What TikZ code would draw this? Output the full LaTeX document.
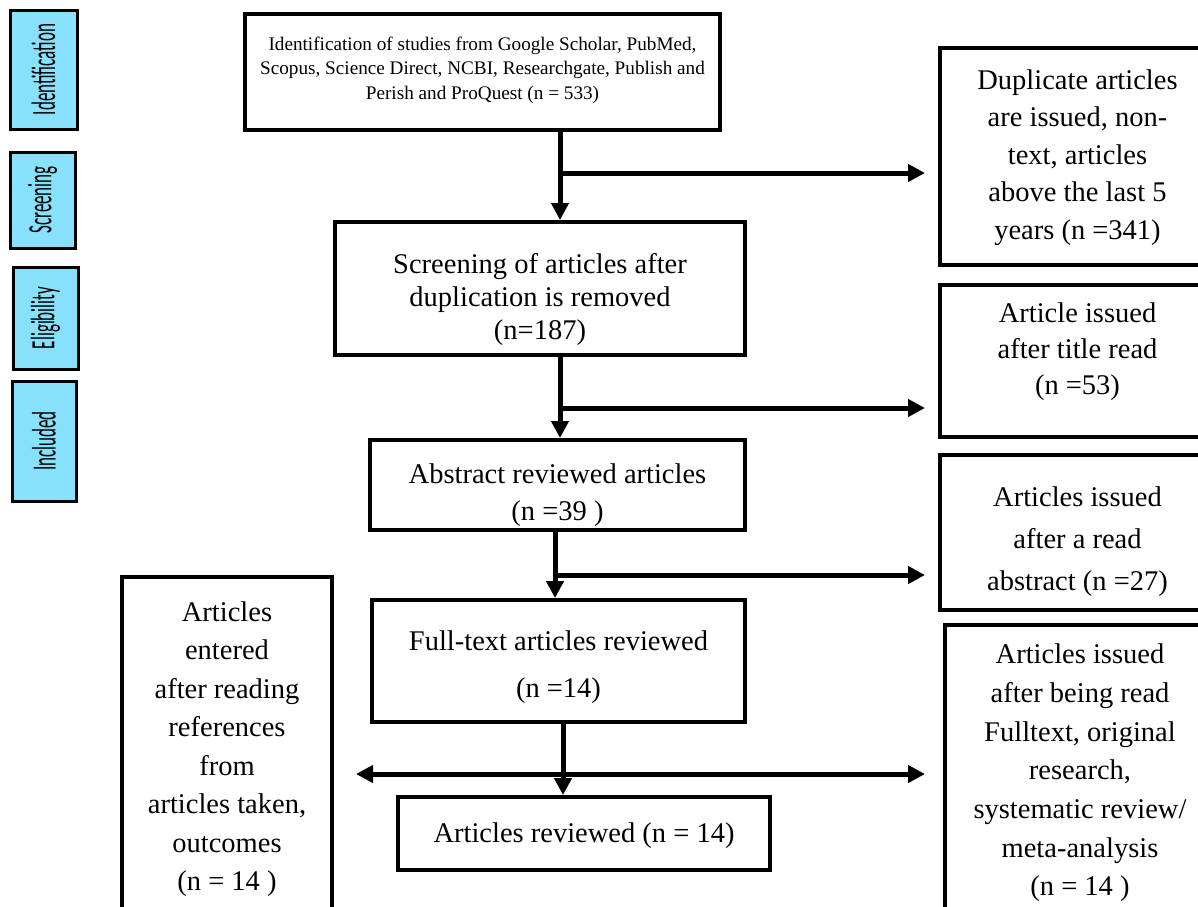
\documentclass[tikz,border=0pt]{standalone}
\usepackage{fontspec}
\setmainfont{Liberation Serif}
\newfontfamily\lblfont[FakeStretch=0.5]{Carlito}
\usetikzlibrary{arrows.meta}
\definecolor{lblblue}{HTML}{87E1FA}
\tikzset{
  stagelbl/.style={draw=black, line width=3pt, fill=lblblue, rotate=90,
    font=\lblfont\fontsize{34}{38}\selectfont, inner sep=0pt},
  flowbox/.style={draw=black, line width=4pt, align=center, inner sep=0pt,
    font=\fontsize{28.5}{37}\selectfont},
  flowtext/.style={align=center, inner sep=0pt, font=\fontsize{28.5}{37}\selectfont},
  flowarrow/.style={line width=5pt, -{Triangle[length=17pt,width=17pt]}},
  dblarrow/.style={line width=5pt, {Triangle[length=17pt,width=17pt]}-{Triangle[length=17pt,width=17pt]}},
}
\begin{document}
\begin{tikzpicture}[x=1pt,y=-1pt]
\useasboundingbox (0,0) rectangle (1198,906);
\clip (0,0) rectangle (1198,906);
% stage labels
\node[stagelbl, minimum width=119pt, minimum height=67pt] (sid) at (43.5,69.5) {Identification};
\node[stagelbl, minimum width=96pt, minimum height=65pt] (ssc) at (42.5,200) {Screening};
\node[stagelbl, minimum width=102pt, minimum height=65pt] (sel) at (45.5,318) {Eligibility};
\node[stagelbl, minimum width=120pt, minimum height=64pt] (sin) at (44,441) {Included};
% main boxes
\node[flowbox, minimum width=475pt, minimum height=116pt] (b1) at (482.5,72) {};
\node[flowtext, font=\fontsize{19.2}{24.5}\selectfont] (t1) at ([yshift=2pt]b1.center)
  {Identification of studies from Google Scholar, PubMed,\\Scopus, Science Direct, NCBI, Researchgate, Publish and\\Perish and ProQuest (n = 533)};
\node[flowbox, minimum width=410pt, minimum height=133pt] (b2) at (540,288.5) {};
\node[flowtext, font=\fontsize{28.5}{33}\selectfont] (t2) at ([yshift=-11pt]b2.center)
  {Screening of articles after\\duplication is removed\\(n=187)};
\node[flowbox, minimum width=375pt, minimum height=90pt] (b3) at (557.5,485) {};
\node[flowtext] (t3) at ([yshift=-10pt]b3.center)
  {Abstract reviewed articles\\(n =39 )};
\node[flowbox, minimum width=373pt, minimum height=122pt] (b4) at (558.5,661) {};
\node[flowtext, font=\fontsize{28.5}{47}\selectfont] (t4) at ([yshift=-6pt]b4.center)
  {Full-text articles reviewed\\(n =14)};
\node[flowbox, minimum width=372pt, minimum height=73pt] (b5) at (584,833.5) {};
\node[flowtext] (t5) at ([yshift=-2pt]b5.center) {Articles reviewed (n = 14)};
\node[flowbox, minimum width=210pt, minimum height=348pt] (lb) at (227,751) {};
\node[flowtext, font=\fontsize{28.5}{38.5}\selectfont] (tl) at ([yshift=2pt]lb.center)
  {Articles\\entered\\after reading\\references\\from\\articles taken,\\outcomes\\(n = 14 )};
% right boxes
\node[flowbox, minimum width=275pt, minimum height=217pt] (r1) at (1077.5,156.5) {};
\node[flowtext, font=\fontsize{28.5}{37.5}\selectfont] (tr1) at ([yshift=-1pt]r1.center)
  {Duplicate articles\\are issued, non-\\text, articles\\above the last 5\\years (n =341)};
\node[flowbox, minimum width=275pt, minimum height=152pt] (r2) at (1077.5,361) {};
\node[flowtext, font=\fontsize{28.5}{36}\selectfont] (tr2) at ([yshift=9pt]r2.center)
  {Article issued\\after title read\\(n =53)};
\node[flowbox, minimum width=275pt, minimum height=155pt] (r3) at (1077.5,532.5) {};
\node[flowtext, font=\fontsize{28.5}{42}\selectfont] (tr3) at ([yshift=-9pt]r3.center)
  {Articles issued\\after a read\\abstract (n =27)};
\node[flowbox, minimum width=270pt, minimum height=300pt] (r4) at (1080,775) {};
\node[flowtext, font=\fontsize{28.5}{38.7}\selectfont] (tr4) at ([yshift=2pt]r4.center)
  {Articles issued\\after being read\\Fulltext, original\\research,\\systematic review/\\meta-analysis\\(n = 14 )};
% junctions
\coordinate (j1) at (560,173);
\coordinate (j2) at (560,408);
\coordinate (j3) at (555,575);
\coordinate (j4) at (563,774);
% connectors
\draw[flowarrow] (b1.south -| j1) -- (b2.north -| j1);
\draw[flowarrow] (j1) -- ([xshift=-13pt]r1.west |- j1);
\draw[flowarrow] (b2.south -| j2) -- (b3.north -| j2);
\draw[flowarrow] (j2) -- ([xshift=-13pt]r2.west |- j2);
\draw[flowarrow] (b3.south -| j3) -- (b4.north -| j3);
\draw[flowarrow] (j3) -- ([xshift=-13pt]r3.west |- j3);
\draw[flowarrow] (b4.south -| j4) -- (b5.north -| j4);
\draw[dblarrow] ([xshift=22pt]lb.east |- j4) -- ([xshift=-18pt]r4.west |- j4);
\end{tikzpicture}
\end{document}
